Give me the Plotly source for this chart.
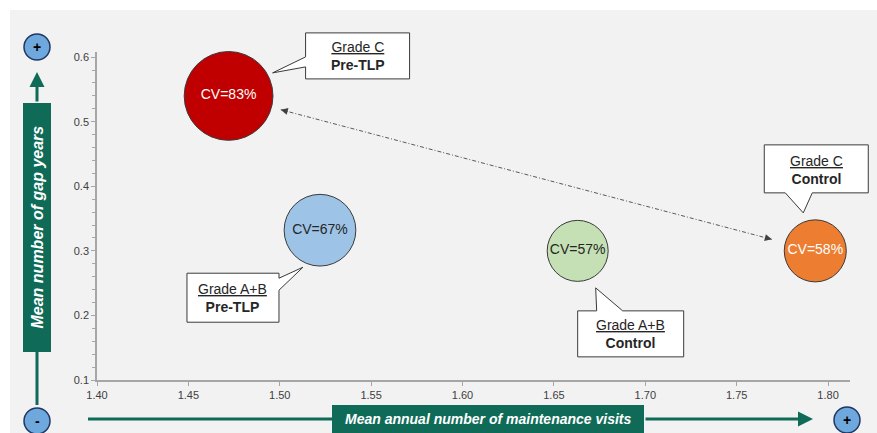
import plotly.graph_objects as go

# ---- data ----
groups = ["Grade C Pre-TLP", "Grade A+B Pre-TLP", "Grade A+B Control", "Grade C Control"]
callout_titles = ["Grade C", "Grade A+B", "Grade A+B", "Grade C"]
callout_subtitles = ["Pre-TLP", "Pre-TLP", "Control", "Control"]
visits = [1.472, 1.522, 1.663, 1.793]      # mean annual number of maintenance visits
gap_years = [0.54, 0.332, 0.30, 0.30]      # mean number of gap years
cv_pct = [83, 67, 57, 58]                  # coefficient of variation (%)
x_ticks = [1.40, 1.45, 1.50, 1.55, 1.60, 1.65, 1.70, 1.75, 1.80]
y_ticks = [0.1, 0.2, 0.3, 0.4, 0.5, 0.6]

# ---- styling ----
fill_colors = ["#c00000", "#9dc3e6", "#c5e0b4", "#ed7d31"]
label_colors = ["white", "#262626", "#262626", "white"]
TEAL = "#0f6b58"
FONT = "Liberation Sans, Arial, sans-serif"

W_FIG, H_FIG = 877, 433
L, R, T, B = 97, 27, 52, 53
PW, PH = W_FIG - L - R, H_FIG - T - B
X_RANGE = [1.40, 1.812]
Y_RANGE = [0.1, 0.608]


def px(xp):
    return (xp - L) / PW


def py(yp):
    return (T + PH - yp) / PH


def x2px(v):
    return L + (v - X_RANGE[0]) / (X_RANGE[1] - X_RANGE[0]) * PW


def y2px(v):
    return T + PH - (v - Y_RANGE[0]) / (Y_RANGE[1] - Y_RANGE[0]) * PH


def px2x(p):
    return X_RANGE[0] + (p - L) / PW * (X_RANGE[1] - X_RANGE[0])


def px2y(p):
    return Y_RANGE[0] + (T + PH - p) / PH * (Y_RANGE[1] - Y_RANGE[0])


def x2paper(v):
    return (v - X_RANGE[0]) / (X_RANGE[1] - X_RANGE[0])


def y2paper(v):
    return (v - Y_RANGE[0]) / (Y_RANGE[1] - Y_RANGE[0])


# speech-bubble outlines, pixel offsets from each bubble centre (x right, y down)
callout_outline = [
    [(77, -63), (181, -63), (181, -17), (77, -17), (77, -29), (44, -23), (77, -39)],
    [(-133, 43), (-41, 43), (-41, 48), (-17, 37), (-41, 60), (-41, 92), (-133, 92)],
    [(0, 60), (19, 60), (18, 37), (45, 60), (106, 60), (106, 106), (0, 106)],
    [(-51, -106), (53, -106), (53, -58), (-3, -58), (-12, -38), (-30, -58), (-51, -58)],
]
callout_text_pos = [(129, -40), (-87, 68), (53, 83), (1, -81)]

fig = go.Figure()

# bubbles
fig.add_trace(go.Scatter(
    x=visits, y=gap_years, mode="markers+text",
    text=[f"CV={v}%" for v in cv_pct],
    textposition="middle center",
    textfont=dict(family=FONT, size=14, color=label_colors),
    marker=dict(size=cv_pct, sizemode="diameter", sizeref=1 / 1.07,
                color=fill_colors, opacity=1,
                line=dict(color="#3a3a3a", width=1)),
    hoverinfo="skip", cliponaxis=False,
))

# dash-dot connector between Grade C Pre-TLP and Grade C Control
ax0, ay0 = x2px(visits[0]), y2px(gap_years[0])
ax1, ay1 = x2px(visits[3]), y2px(gap_years[3])
dx, dy = ax1 - ax0, ay1 - ay0
dist = (dx ** 2 + dy ** 2) ** 0.5
ux, uy = dx / dist, dy / dist
s_px = (ax0 + ux * 54, ay0 + uy * 54)
e_px = (ax1 - ux * 45, ay1 - uy * 45)
fig.add_trace(go.Scatter(
    x=[px2x(s_px[0]), px2x(e_px[0])], y=[px2y(s_px[1]), px2y(e_px[1])],
    mode="lines", line=dict(color="#595959", width=1, dash="4px,2px,1px,2px"),
    hoverinfo="skip",
))

annotations = []
shapes = []

# arrow heads on both ends of the connector
for (tx, ty), sgn in ((s_px, 1), (e_px, -1)):
    annotations.append(dict(
        x=px2x(tx), y=px2y(ty), xref="x", yref="y", text="",
        showarrow=True, ax=sgn * ux * 6, ay=sgn * uy * 6,
        arrowhead=2, arrowsize=1.4, arrowwidth=1, arrowcolor="#404040",
    ))

# speech-bubble callouts (paper-referenced so they are not clipped by the plot area)
for i in range(len(groups)):
    pts = callout_outline[i]
    path = "M " + " L ".join(f"{p[0]},{-p[1]}" for p in pts) + " Z"
    shapes.append(dict(
        type="path", xref="paper", yref="paper",
        xsizemode="pixel", ysizemode="pixel",
        xanchor=x2paper(visits[i]), yanchor=y2paper(gap_years[i]),
        path=path, fillcolor="white", line=dict(color="#3a3a3a", width=1),
        layer="above",
    ))
    tx, ty = callout_text_pos[i]
    annotations.append(dict(
        x=visits[i], y=gap_years[i], xref="x", yref="y",
        xanchor="center", yanchor="middle",
        xshift=tx, yshift=-ty, showarrow=False,
        text=f"<u>{callout_titles[i]}</u><br><b>{callout_subtitles[i]}</b>",
        font=dict(family=FONT, size=14, color="#262626"), align="center",
    ))

# grey panel behind the chart
shapes.insert(0, dict(
    type="rect", xref="paper", yref="paper", layer="below",
    x0=px(10), x1=px(W_FIG + 5), y0=py(H_FIG + 10), y1=py(10),
    fillcolor="#f2f2f2", line=dict(width=0),
))

# y-axis title block with arrow
shapes.append(dict(type="rect", xref="paper", yref="paper",
                   x0=px(23), x1=px(51), y0=py(352), y1=py(103),
                   fillcolor=TEAL, line=dict(width=0)))
shapes.append(dict(type="line", xref="paper", yref="paper",
                   x0=px(37), x1=px(37), y0=py(352), y1=py(405),
                   line=dict(color=TEAL, width=3)))
annotations.append(dict(x=px(37), y=py(72), xref="paper", yref="paper",
                        text="", showarrow=True, ax=0, ay=31,
                        arrowhead=2, arrowsize=1, arrowwidth=3, arrowcolor=TEAL))
annotations.append(dict(x=px(37), y=py(227.5), xref="paper", yref="paper",
                        xanchor="center", yanchor="middle",
                        text="<b><i>Mean number of gap years</i></b>", textangle=-90,
                        showarrow=False, font=dict(family=FONT, size=16, color="white")))

# x-axis title block with arrow
shapes.append(dict(type="rect", xref="paper", yref="paper",
                   x0=px(332), x1=px(644), y0=py(440), y1=py(405),
                   fillcolor=TEAL, line=dict(width=0)))
shapes.append(dict(type="line", xref="paper", yref="paper",
                   x0=px(88), x1=px(332), y0=py(419), y1=py(419),
                   line=dict(color=TEAL, width=3)))
annotations.append(dict(x=px(813), y=py(419), xref="paper", yref="paper",
                        text="", showarrow=True, ax=-169, ay=0,
                        arrowhead=2, arrowsize=1, arrowwidth=3, arrowcolor=TEAL))
annotations.append(dict(x=px(488), y=py(419), xref="paper", yref="paper",
                        xanchor="center", yanchor="middle",
                        text="<b><i>Mean annual number of maintenance visits</i></b>",
                        showarrow=False, font=dict(family=FONT, size=14, color="white")))

# +/- direction markers
for cx, cy, sym in ((37, 47, "+"), (37, 421, "-"), (847, 420, "+")):
    shapes.append(dict(type="circle", xref="paper", yref="paper",
                       xsizemode="pixel", ysizemode="pixel",
                       xanchor=px(cx), yanchor=py(cy),
                       x0=-13, x1=13, y0=-13, y1=13,
                       fillcolor="#6fa8dc", line=dict(color="#1f3864", width=1.5)))
    annotations.append(dict(x=px(cx), y=py(cy), xref="paper", yref="paper",
                            xanchor="center", yanchor="middle",
                            text=f"<b>{sym}</b>", showarrow=False,
                            font=dict(family=FONT, size=14, color="black")))

fig.update_layout(
    width=W_FIG, height=H_FIG,
    margin=dict(l=L, r=R, t=T, b=B),
    paper_bgcolor="white", plot_bgcolor="rgba(0,0,0,0)",
    showlegend=False,
    font=dict(family=FONT),
    shapes=shapes, annotations=annotations,
    xaxis=dict(range=X_RANGE, tickvals=x_ticks, tickformat=".2f",
               ticks="outside", ticklen=4, tickcolor="#a6a6a6",
               showline=True, linecolor="#a6a6a6", linewidth=1.5,
               showgrid=False, zeroline=False,
               tickfont=dict(family=FONT, size=11, color="#404040")),
    yaxis=dict(range=Y_RANGE, tickvals=y_ticks, tickformat=".1f",
               ticks="outside", ticklen=4, tickcolor="#a6a6a6",
               showline=True, linecolor="#a6a6a6", linewidth=1.5,
               showgrid=False, zeroline=False,
               minor=dict(dtick=0.02, tick0=0.1, ticks="outside", ticklen=3,
                          tickcolor="#a6a6a6", showgrid=False),
               tickfont=dict(family=FONT, size=11, color="#404040")),
)

fig.write_html("out.html")
